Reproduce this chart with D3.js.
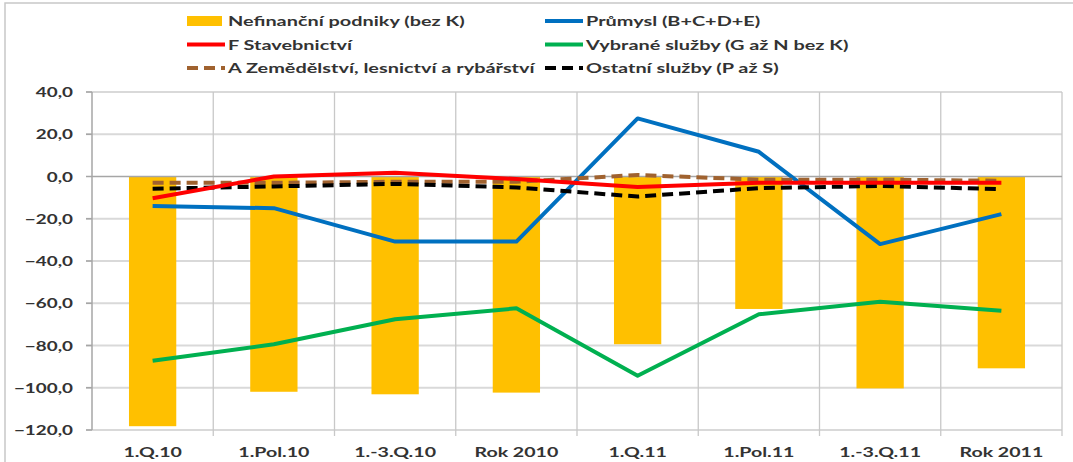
<!DOCTYPE html>
<html>
<head>
<meta charset="utf-8">
<script src="https://cdn.jsdelivr.net/npm/d3@7"></script>
<style>
  html, body { margin: 0; padding: 0; background: #fff; }
  svg { display: block; font-family: Lato, "Open Sans", sans-serif; font-weight: 700; }
</style>
</head>
<body>
<svg id="chart" width="1073" height="462"></svg>
<script>
const categories = ["1.Q.10", "1.Pol.10", "1.-3.Q.10", "Rok 2010", "1.Q.11", "1.Pol.11", "1.-3.Q.11", "Rok 2011"]
const yTicks = [40, 20, 0, -20, -40, -60, -80, -100, -120]

const nefinancni = [-118.2, -101.9, -103.1, -102.3, -79.4, -62.7, -100.3, -90.8]
const prumysl = [-14.0, -15.0, -30.8, -30.8, 27.5, 11.7, -32.0, -17.8]
const stavebnictvi = [-10.3, 0.0, 1.8, -1.2, -5.0, -3.0, -3.0, -3.0]
const sluzby = [-87.2, -79.4, -67.6, -62.4, -94.3, -65.2, -59.3, -63.5]
const zemedelstvi = [-2.9, -3.0, -2.5, -2.5, 0.7, -1.5, -1.5, -2.0]
const ostatni = [-5.8, -4.7, -3.5, -5.2, -9.5, -5.5, -4.5, -6.0]

const svg = d3.select("#chart")
const margin = { top: 92, right: 11, bottom: 32, left: 92 }
const width = 1073 - margin.left - margin.right
const height = 462 - margin.top - margin.bottom

const x = d3.scaleBand().domain(categories).range([margin.left, margin.left + width])
const y = d3.scaleLinear().domain([-120, 40]).range([margin.top + height, margin.top])

// outer frame
svg.append("path").attr("d", "M5,462 V3 H1073").attr("fill", "none").attr("stroke", "#c8c8c8").attr("stroke-width", 1.5)

// horizontal grid
svg.append("g").selectAll("line").data(yTicks.filter((d) => d !== 0)).join("line")
  .attr("x1", margin.left - 6).attr("x2", margin.left + width)
  .attr("y1", (d) => y(d)).attr("y2", (d) => y(d))
  .attr("stroke", "#d9d9d9").attr("stroke-width", 2)

// vertical grid at category boundaries
svg.append("g").selectAll("line").data(categories.slice(1).concat(["end"])).join("line")
  .attr("x1", (d, i) => x(categories[0]) + (i + 1) * x.bandwidth())
  .attr("x2", (d, i) => x(categories[0]) + (i + 1) * x.bandwidth())
  .attr("y1", margin.top).attr("y2", margin.top + height + 6)
  .attr("stroke", "#c8c8c8").attr("stroke-width", 1.3)

// bars
const barW = x.bandwidth() * 0.39
svg.append("g").selectAll("rect").data(nefinancni).join("rect")
  .attr("x", (d, i) => x(categories[i]) + (x.bandwidth() - barW) / 2)
  .attr("y", (d) => y(Math.max(0, d)))
  .attr("width", barW)
  .attr("height", (d) => Math.abs(y(d) - y(0)))
  .attr("fill", "#FFC000")

// zero line and y axis line
svg.append("line").attr("x1", margin.left).attr("x2", margin.left + width).attr("y1", y(0)).attr("y2", y(0))
  .attr("stroke", "#a6a6a6").attr("stroke-width", 1.5)
svg.append("line").attr("x1", margin.left).attr("x2", margin.left).attr("y1", margin.top).attr("y2", margin.top + height)
  .attr("stroke", "#a6a6a6").attr("stroke-width", 1.5)
svg.append("g").selectAll("line").data(yTicks).join("line")
  .attr("x1", margin.left - 6).attr("x2", margin.left).attr("y1", (d) => y(d)).attr("y2", (d) => y(d))
  .attr("stroke", "#a6a6a6").attr("stroke-width", 1.5)

// lines
const line = d3.line().x((d, i) => x(categories[i]) + x.bandwidth() / 2).y((d) => y(d))
const series = [
  { values: prumysl, color: "#0070C0", dash: null },
  { values: sluzby, color: "#00B050", dash: null },
  { values: zemedelstvi, color: "#A0622F", dash: "11,6" },
  { values: ostatni, color: "#000000", dash: "11,6" },
  { values: stavebnictvi, color: "#FF0000", dash: null }
]
svg.append("g").selectAll("path").data(series).join("path")
  .attr("d", (d) => line(d.values))
  .attr("fill", "none")
  .attr("stroke", (d) => d.color)
  .attr("stroke-width", 4)
  .attr("stroke-linejoin", "round")
  .attr("stroke-dasharray", (d) => d.dash)

// stretched text helper
function label(g, txt, tx, ty, anchor, size, sx) {
  g.append("g").attr("transform", `translate(${tx},${ty}) scale(${sx},1)`)
    .append("text").attr("text-anchor", anchor).attr("font-size", size).attr("fill", "#333")
    .text(txt)
}

// y tick labels
const gy = svg.append("g")
yTicks.forEach((d) => label(gy, d3.format(".1f")(d).replace(".", ","), 73, y(d) + 5, "end", 13, 1.45))

// x labels
const gx = svg.append("g")
categories.forEach((c) => label(gx, c, x(c) + x.bandwidth() / 2, 457, "middle", 14, 1.4))

// legend
const legendItems = [
  { name: "Nefinanční podniky (bez K)", type: "bar", color: "#FFC000", col: 0, row: 0 },
  { name: "Průmysl (B+C+D+E)", type: "line", color: "#0070C0", col: 1, row: 0 },
  { name: "F Stavebnictví", type: "line", color: "#FF0000", col: 0, row: 1 },
  { name: "Vybrané služby (G až N bez K)", type: "line", color: "#00B050", col: 1, row: 1 },
  { name: "A Zemědělství, lesnictví a rybářství", type: "dash", color: "#A0622F", col: 0, row: 2 },
  { name: "Ostatní služby (P až S)", type: "dash", color: "#000000", col: 1, row: 2 }
]
const colX = [187, 545]
const lg = svg.append("g")
legendItems.forEach((d) => {
  const lx = colX[d.col]
  const ly = 21 + d.row * 23.5
  if (d.type === "bar") {
    lg.append("rect").attr("x", lx).attr("y", ly - 5).attr("width", 35).attr("height", 10).attr("fill", d.color)
  } else {
    lg.append("line").attr("x1", lx).attr("x2", lx + 38).attr("y1", ly).attr("y2", ly)
      .attr("stroke", d.color).attr("stroke-width", 4)
      .attr("stroke-dasharray", d.type === "dash" ? "11,6" : null)
  }
  label(lg, d.name, lx + 41, ly + 5, "start", 14, 1.42)
})
</script>
</body>
</html>
